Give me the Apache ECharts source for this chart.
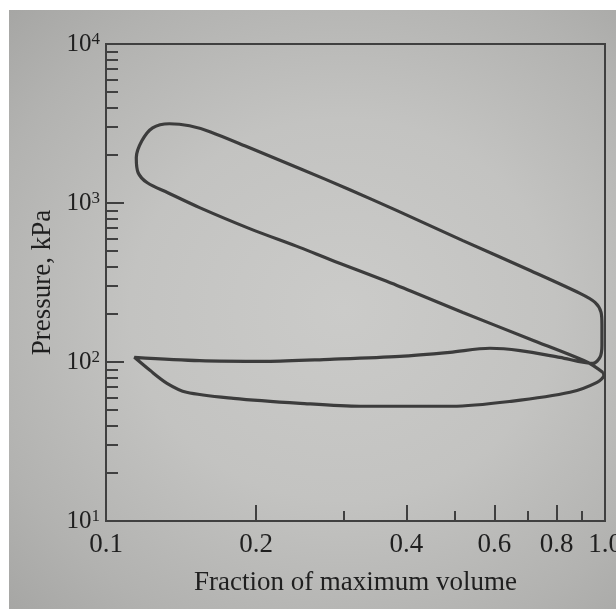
<!DOCTYPE html>
<html>
<head>
<meta charset="utf-8">
<script src="https://cdn.jsdelivr.net/npm/echarts@6/dist/echarts.min.js"></script>
<style>
html,body{margin:0;padding:0;background:#ffffff;}
#photo{position:absolute;left:9px;top:10px;width:607px;height:599px;
  background:radial-gradient(ellipse at 55% 50%, #cbcbc9 0%, #c3c3c1 45%, #b2b2b0 80%, #a6a6a4 100%);}
#chart{position:absolute;left:0;top:0;width:616px;height:609px;}
</style>
</head>
<body>
<div id="photo"></div>
<div id="chart"></div>
<script>
// ---- Data (fraction of maximum volume, pressure in kPa) ----
const compressionVol = [0.991, 0.920, 0.708, 0.519, 0.383, 0.281, 0.245, 0.194, 0.154, 0.133, 0.121];
const compressionP   = [86, 100, 139, 205, 303, 441, 524, 690, 935, 1160, 1340];

const combustionVol  = [0.116, 0.115, 0.118, 0.124, 0.134, 0.147, 0.162];
const combustionP    = [1550, 1925, 2460, 2970, 3150, 3060, 2800];

const expansionVol   = [0.194, 0.245, 0.308, 0.383, 0.519, 0.708, 0.891, 0.955, 0.982, 0.986, 0.986, 0.977, 0.946];
const expansionP     = [2225, 1643, 1212, 895, 580, 376, 270, 237, 205, 170, 127, 107, 98];

const exhaustVol     = [0.812, 0.676, 0.588, 0.489, 0.388, 0.281, 0.210, 0.154, 0.114];
const exhaustP       = [107, 118, 122, 115, 108.5, 104, 101, 102, 107];

const intakeVol      = [0.1225, 0.1325, 0.145, 0.180, 0.245, 0.323, 0.494, 0.648, 0.851, 0.964, 0.995];
const intakeP        = [88.6, 73.5, 64.5, 59.1, 55.0, 52.7, 52.7, 56.6, 64.5, 74.5, 82.5];

// ---- Tick labels / tick positions ----
const xTickLabels  = ['0.1', '0.2', '0.4', '0.6', '0.8', '1.0'];
const xMajorTicks  = [0.2, 0.4, 0.6, 0.8];
const xMinorTicks  = [0.3, 0.5, 0.7, 0.9];
const yTickExponents = [1, 2, 3, 4];
const yMajorTicks  = [100, 1000];
const yMinorTicks  = [20, 30, 40, 50, 60, 70, 80, 90,
                      200, 300, 400, 500, 600, 700, 800, 900,
                      2000, 3000, 4000, 5000, 6000, 7000, 8000, 9000];

const xTitle = 'Fraction of maximum volume';
const yTitle = 'Pressure, kPa';

// ---- Build the closed cycle path ----
const allVol = [].concat(compressionVol, combustionVol, expansionVol, exhaustVol, intakeVol);
const allP   = [].concat(compressionP, combustionP, expansionP, exhaustP, intakeP);
const cycle = allVol.map((v, i) => [v, allP[i]]);
cycle.push([compressionVol[0], compressionP[0]]);

const FONT = '"Liberation Serif", "DejaVu Serif", "Times New Roman", serif';
const INK = '#404040';
const TEXT = '#1f1f1f';

const xLabelVals = xTickLabels.map(s => Math.log10(parseFloat(s)));
function xLabelFmt(v) {
  let best = 0, bd = 1e9;
  xLabelVals.forEach((lv, i) => { const d = Math.abs(lv - v); if (d < bd) { bd = d; best = i; } });
  return xTickLabels[best];
}

const chart = echarts.init(document.getElementById('chart'), null, {renderer: 'canvas'});
const option = {
  backgroundColor: 'transparent',
  animation: false,
  grid: {left: 106, right: 11, top: 44, bottom: 88, show: true, borderColor: INK, borderWidth: 2,
         backgroundColor: 'transparent', containLabel: false, outerBoundsMode: 'none'},
  xAxis: [
    {
      type: 'log', logBase: 10, min: 0.1, max: 1, position: 'bottom',
      axisLine: {show: true, onZero: false, lineStyle: {color: INK, width: 2}},
      axisTick: {show: false}, axisLabel: {show: false}, splitLine: {show: false}, minorTick: {show: false},
      name: xTitle, nameLocation: 'middle', nameGap: 48,
      nameTextStyle: {fontFamily: FONT, fontSize: 27, color: TEXT}
    },
    {
      type: 'value', min: -1, max: 0, position: 'bottom',
      axisLine: {show: false, onZero: false},
      axisTick: {show: true, inside: true, length: 16, customValues: xMajorTicks.map(Math.log10), lineStyle: {color: INK, width: 2}},
      axisLabel: {show: true, margin: 10, customValues: xLabelVals, formatter: xLabelFmt,
                  fontFamily: FONT, fontSize: 27, color: TEXT},
      splitLine: {show: false}
    },
    {
      type: 'value', min: -1, max: 0, position: 'bottom',
      axisLine: {show: false, onZero: false},
      axisTick: {show: true, inside: true, length: 10, customValues: xMinorTicks.map(Math.log10), lineStyle: {color: INK, width: 2}},
      axisLabel: {show: false}, splitLine: {show: false}
    }
  ],
  yAxis: [
    {
      type: 'log', logBase: 10, min: 10, max: 10000, position: 'left',
      axisLine: {show: true, onZero: false, lineStyle: {color: INK, width: 2}},
      axisTick: {show: false}, axisLabel: {show: false}, splitLine: {show: false}, minorTick: {show: false},
      name: yTitle, nameLocation: 'middle', nameGap: 50,
      nameTextStyle: {fontFamily: FONT, fontSize: 27, color: TEXT}
    },
    {
      type: 'value', min: 1, max: 4, position: 'left',
      axisLine: {show: false, onZero: false},
      axisTick: {show: true, inside: true, length: 18, customValues: yMajorTicks.map(Math.log10), lineStyle: {color: INK, width: 2}},
      axisLabel: {show: true, margin: 6, customValues: yTickExponents,
                  formatter: v => '{b|10}{sup|' + Math.round(v) + '}',
                  rich: {
                    b: {fontFamily: FONT, fontSize: 25, color: TEXT},
                    sup: {fontFamily: FONT, fontSize: 17, color: TEXT, verticalAlign: 'top'}
                  }},
      splitLine: {show: false}
    },
    {
      type: 'value', min: 1, max: 4, position: 'left',
      axisLine: {show: false, onZero: false},
      axisTick: {show: true, inside: true, length: 12, customValues: yMinorTicks.map(Math.log10), lineStyle: {color: INK, width: 2}},
      axisLabel: {show: false}, splitLine: {show: false}
    }
  ],
  series: [{
    type: 'line', xAxisIndex: 0, yAxisIndex: 0,
    data: cycle, symbol: 'none', showSymbol: false, smooth: 0.3,
    lineStyle: {color: '#3c3c3c', width: 3.2}
  }]
};
chart.setOption(option);
</script>
</body>
</html>
